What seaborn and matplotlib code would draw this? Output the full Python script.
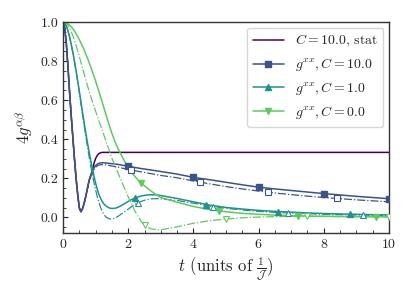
import numpy as np
import matplotlib
matplotlib.use("Agg")
import matplotlib.pyplot as plt
from matplotlib.lines import Line2D
import seaborn as sns

# sampling times of the curves (dense early, coarse late)
t = np.round(np.concatenate([np.arange(0, 1.5001, 0.05),
                             np.arange(1.6, 3.0001, 0.1),
                             np.arange(3.5, 10.001, 0.5)]), 2)

g10 = [1.0, 0.97, 0.89, 0.77, 0.64, 0.52, 0.41, 0.30, 0.20, 0.115, 0.048, 0.03, 0.046, 0.075, 0.11, 0.15,
       0.19, 0.215, 0.238, 0.255, 0.266, 0.273, 0.277, 0.279, 0.28, 0.28, 0.279, 0.278, 0.277, 0.276, 0.275,
       0.273, 0.271, 0.268, 0.265, 0.262, 0.259, 0.256, 0.253, 0.25, 0.248, 0.245, 0.243, 0.24, 0.238, 0.235,
       0.222, 0.205, 0.193, 0.18, 0.167, 0.155, 0.146, 0.138, 0.13, 0.122, 0.115, 0.108, 0.102, 0.096]
g10_dd = [1.0, 0.97, 0.89, 0.77, 0.64, 0.52, 0.405, 0.295, 0.195, 0.11, 0.045, 0.028, 0.044, 0.074, 0.109, 0.148,
          0.185, 0.21, 0.23, 0.246, 0.257, 0.264, 0.268, 0.27, 0.27, 0.27, 0.269, 0.268, 0.266, 0.265, 0.263,
          0.26, 0.257, 0.253, 0.249, 0.245, 0.242, 0.239, 0.236, 0.233, 0.23, 0.227, 0.224, 0.221, 0.218, 0.215,
          0.203, 0.187, 0.172, 0.158, 0.146, 0.135, 0.125, 0.117, 0.109, 0.102, 0.096, 0.09, 0.085, 0.08]
stat10 = [1.0, 0.97, 0.89, 0.77, 0.64, 0.52, 0.41, 0.30, 0.20, 0.115, 0.048, 0.03, 0.046, 0.075, 0.11, 0.15,
          0.19, 0.215, 0.238, 0.278, 0.302, 0.318, 0.327, 0.331, 0.333, 0.333, 0.333, 0.333, 0.333, 0.333, 0.333,
          0.333, 0.333, 0.333, 0.333, 0.333, 0.333, 0.333, 0.333, 0.333, 0.333, 0.333, 0.333, 0.333, 0.333, 0.333,
          0.333, 0.333, 0.333, 0.333, 0.333, 0.333, 0.333, 0.333, 0.333, 0.333, 0.333, 0.333, 0.333, 0.333]
g1 = [1.0, 0.995, 0.98, 0.955, 0.925, 0.887, 0.845, 0.8, 0.75, 0.698, 0.645, 0.59, 0.535, 0.482, 0.43, 0.381,
      0.335, 0.291, 0.25, 0.211, 0.175, 0.144, 0.118, 0.098, 0.082, 0.07, 0.061, 0.055, 0.05, 0.047, 0.046,
      0.047, 0.053, 0.062, 0.072, 0.082, 0.091, 0.099, 0.105, 0.11, 0.113, 0.115, 0.116, 0.116, 0.115, 0.112,
      0.097, 0.08, 0.063, 0.051, 0.043, 0.036, 0.031, 0.027, 0.023, 0.02, 0.018, 0.016, 0.014, 0.013]
g1_dd = [1.0, 0.995, 0.98, 0.955, 0.924, 0.886, 0.843, 0.797, 0.747, 0.694, 0.638, 0.58, 0.523, 0.467, 0.413, 0.36,
         0.31, 0.262, 0.218, 0.177, 0.14, 0.106, 0.077, 0.052, 0.032, 0.017, 0.005, -0.002, -0.006, -0.008, -0.008,
         -0.003, 0.007, 0.019, 0.031, 0.043, 0.055, 0.066, 0.075, 0.082, 0.088, 0.092, 0.095, 0.096, 0.096, 0.095,
         0.087, 0.073, 0.058, 0.047, 0.038, 0.031, 0.026, 0.022, 0.019, 0.016, 0.014, 0.012, 0.011, 0.01]
g0 = [1.0, 0.999, 0.996, 0.991, 0.985, 0.976, 0.966, 0.954, 0.94, 0.925, 0.91, 0.893, 0.875, 0.856, 0.836, 0.815,
      0.793, 0.77, 0.746, 0.722, 0.697, 0.671, 0.645, 0.618, 0.591, 0.563, 0.536, 0.508, 0.481, 0.455, 0.43,
      0.385, 0.348, 0.315, 0.284, 0.256, 0.231, 0.21, 0.192, 0.177, 0.162, 0.148, 0.135, 0.123, 0.112, 0.102,
      0.078, 0.056, 0.04, 0.029, 0.021, 0.016, 0.012, 0.009, 0.007, 0.006, 0.005, 0.004, 0.003, 0.003]
g0_dd = [1.0, 0.998, 0.993, 0.983, 0.969, 0.951, 0.93, 0.906, 0.88, 0.852, 0.823, 0.793, 0.763, 0.733, 0.703, 0.674,
         0.646, 0.619, 0.593, 0.568, 0.543, 0.519, 0.495, 0.471, 0.447, 0.423, 0.399, 0.375, 0.351, 0.327, 0.303,
         0.262, 0.222, 0.183, 0.144, 0.105, 0.07, 0.034, 0.005, -0.02, -0.04, -0.051, -0.058, -0.061, -0.063, -0.063,
         -0.048, -0.03, -0.017, -0.008, -0.002, 0.002, 0.004, 0.005, 0.005, 0.005, 0.004, 0.004, 0.003, 0.003]

# marker samples (filled = solid curves, open = dash-dot curves)
mk10_t, mk10 = [2, 4, 6, 8, 10], [0.262, 0.205, 0.155, 0.122, 0.096]
mk10d_t, mk10d = [2.1, 4.2, 6.3, 8.4], [0.242, 0.181, 0.129, 0.098]
mk1_t, mk1 = [2.2, 4.4, 6.6, 8.8], [0.099, 0.066, 0.03, 0.017]
mk1d_t, mk1d = [2.3, 4.6, 6.9, 9.2], [0.075, 0.054, 0.022, 0.012]
mk0_t, mk0 = [2.4, 4.8, 7.2, 9.6], [0.177, 0.033, 0.008, 0.003]
mk0d_t, mk0d = [2.5, 5.0, 7.5, 10.0], [-0.04, -0.008, 0.005, 0.003]

c_stat, c10, c1, c0 = "#440154", "#3b528b", "#21918c", "#5ec962"

sns.set_style("ticks")
plt.rcParams.update({
    "font.family": "serif",
    "font.serif": ["cmr10", "DejaVu Serif"],
    "mathtext.fontset": "cm",
    "axes.formatter.use_mathtext": True,
    "font.size": 10,
    "xtick.direction": "in",
    "ytick.direction": "in",
    "xtick.major.size": 3.5,
    "ytick.major.size": 3.5,
    "xtick.minor.size": 2,
    "ytick.minor.size": 2,
    "axes.edgecolor": "#333333",
    "axes.linewidth": 1.0,
})

fig = plt.figure(figsize=(4.15, 2.95), dpi=100)
ax = fig.add_axes([0.152, 0.21, 0.785, 0.715])

sns.lineplot(x=t, y=stat10, color=c_stat, lw=1.1, ax=ax)
series = [
    (g10, g10_dd, mk10_t, mk10, mk10d_t, mk10d, c10, "s"),
    (g1, g1_dd, mk1_t, mk1, mk1d_t, mk1d, c1, "^"),
    (g0, g0_dd, mk0_t, mk0, mk0d_t, mk0d, c0, "v"),
]
for sol, dd, mt, mv, mdt, mdv, col, m in series:
    sns.lineplot(x=t, y=sol, color=col, lw=1.1, ax=ax)
    sns.lineplot(x=t, y=dd, color=col, lw=0.9, linestyle="-.", ax=ax)
    ax.plot(mt, mv, ls="none", marker=m, ms=5, color=col, zorder=4)
    ax.plot(mdt, mdv, ls="none", marker=m, ms=5, mfc="white", mec=col, mew=0.8, zorder=4)

ax.set_xlim(0, 10)
ax.set_ylim(-0.08, 1.0)
ax.set_xticks([0, 2, 4, 6, 8, 10])
ax.set_yticks([0.0, 0.2, 0.4, 0.6, 0.8, 1.0])
ax.xaxis.set_minor_locator(matplotlib.ticker.MultipleLocator(0.5))
ax.yaxis.set_minor_locator(matplotlib.ticker.MultipleLocator(0.05))
ax.yaxis.set_major_formatter(matplotlib.ticker.FormatStrFormatter("%.1f"))
ax.set_xlabel(r"$t$ (units of $\frac{1}{\mathcal{J}}$)", fontsize=12)
ax.set_ylabel(r"$4g^{\alpha\beta}$", fontsize=12)

handles = [
    Line2D([], [], color=c_stat, lw=1.1),
    Line2D([], [], color=c10, lw=1.1, marker="s", ms=5),
    Line2D([], [], color=c1, lw=1.1, marker="^", ms=5),
    Line2D([], [], color=c0, lw=1.1, marker="v", ms=5),
]
labels = [r"$C=10.0$, stat", r"$g^{xx}, C=10.0$", r"$g^{xx}, C=1.0$", r"$g^{xx}, C=0.0$"]
ax.legend(handles, labels, loc="upper right", fontsize=10, frameon=True,
          borderaxespad=0.4, handlelength=2.2)

fig.savefig("out.png", dpi=100)
